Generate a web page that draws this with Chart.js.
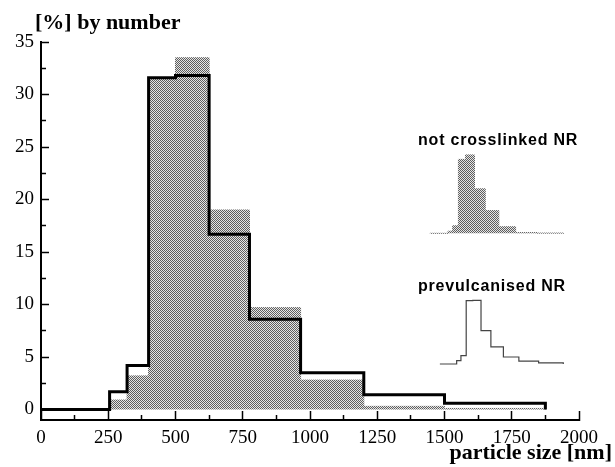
<!DOCTYPE html>
<html>
<head>
<meta charset="utf-8">
<script src="https://cdn.jsdelivr.net/npm/chart.js@4.4.1/dist/chart.umd.min.js"></script>
<style>
  html, body { margin: 0; padding: 0; background: #fff; }
  #caja { width: 615px; height: 467px; }
</style>
</head>
<body>
<div id="caja"><canvas id="canvaGrafico"></canvas></div>
<script>
// bordes de clase (nm), comunes a las dos muestras
const bordes = [0, 255, 320, 400, 500, 625, 775, 965, 1200, 1500, 1875];
// [%] por numero en cada clase
const noReticulado = [0, 0.9, 3.2, 31.6, 33.5, 19.0, 9.7, 2.8, 0.3, 0.1];
const prevulcanizado = [0, 1.7, 4.2, 31.6, 31.8, 16.7, 8.6, 3.5, 1.4, 0.6];

const ticksX = [0, 250, 500, 750, 1000, 1250, 1500, 1750, 2000];
const ticksXMenor = [125, 375, 625, 875, 1125, 1375, 1625, 1875];
const ticksY = [0, 5, 10, 15, 20, 25, 30, 35];
const ticksYMenor = [2.5, 7.5, 12.5, 17.5, 22.5, 27.5, 32.5];

const serif = "'Liberation Serif', 'Times New Roman', serif";
const sans = "'Liberation Sans', Arial, sans-serif";

// histograma como escalones: cada punto abre su clase, el ultimo cierra en 0
const escalones = (valores) => {
  const pts = valores.map((v, i) => ({x: bordes[i], y: v}));
  pts.push({x: bordes[bordes.length - 1], y: 0});
  return pts;
};

// rango de una escala oculta para que [lo, hi] caiga entre las fracciones f0 y f1 del area
const rango = (lo, hi, f0, f1) => {
  const k = (hi - lo) / (f1 - f0);
  return {min: lo - f0 * k, max: lo + (1 - f0) * k};
};

// trama de puntos para el relleno gris
const trama = (() => {
  const c = document.createElement('canvas');
  c.width = 2; c.height = 2;
  const g = c.getContext('2d');
  g.fillStyle = '#e6e6e6'; g.fillRect(0, 0, 2, 2);
  g.fillStyle = '#5e5e5e'; g.fillRect(0, 0, 1, 1); g.fillRect(1, 1, 1, 1);
  return g.createPattern(c, 'repeat');
})();

const fijarTicks = (valores) => (scale) => { scale.ticks = valores.map(v => ({value: v})); };

const textos = {
  id: 'textos',
  afterDraw(chart) {
    const ctx = chart.ctx;
    ctx.save();
    ctx.fillStyle = '#000';
    ctx.textBaseline = 'alphabetic';
    ctx.font = `bold 22px ${serif}`;
    ctx.textAlign = 'left';
    ctx.fillText('[%] by number', 35, 29);
    ctx.textAlign = 'right';
    ctx.fillText('particle size [nm]', 612, 459);
    ctx.font = `bold 16px ${sans}`;
    ctx.textAlign = 'left';
    ctx.letterSpacing = '0.8px';
    ctx.fillText('not crosslinked NR', 418, 145);
    ctx.fillText('prevulcanised NR', 418, 291);
    ctx.restore();
  }
};

const ejeMenor = (axis, pos, min, max, valores, largo) => ({
  type: 'linear', axis, position: pos, min, max,
  afterBuildTicks: fijarTicks(valores),
  ticks: {display: false},
  grid: {drawOnChartArea: false, drawTicks: true, tickLength: largo, tickWidth: 1.5, tickColor: '#000'},
  border: {display: false}
});

const oculto = (axis, r) => ({type: 'linear', axis, display: false, min: r.min, max: r.max});

new Chart(document.getElementById('canvaGrafico'), {
  type: 'line',
  data: {
    datasets: [
      {
        label: 'prevulcanised NR',
        data: escalones(prevulcanizado),
        xAxisID: 'x', yAxisID: 'y',
        stepped: 'before', borderColor: '#000', borderWidth: 3,
        pointRadius: 0, fill: false
      },
      {
        label: 'not crosslinked NR',
        data: escalones(noReticulado),
        xAxisID: 'x', yAxisID: 'y',
        stepped: 'before', borderColor: trama, borderWidth: 1,
        backgroundColor: trama, pointRadius: 0, fill: 'origin'
      },
      {
        label: 'not crosslinked NR (leyenda)',
        data: escalones(noReticulado),
        xAxisID: 'xa', yAxisID: 'ya',
        stepped: 'before', borderColor: trama, borderWidth: 1,
        backgroundColor: trama, pointRadius: 0, fill: 'origin'
      },
      {
        label: 'prevulcanised NR (leyenda)',
        data: escalones(prevulcanizado),
        xAxisID: 'xb', yAxisID: 'yb',
        stepped: 'before', borderColor: '#444', borderWidth: 1.2,
        pointRadius: 0, fill: false
      }
    ]
  },
  options: {
    responsive: true,
    maintainAspectRatio: false,
    animation: false,
    events: [],
    layout: {padding: {top: 42, right: 36, bottom: 0, left: 0}},
    plugins: {legend: {display: false}, tooltip: {enabled: false}},
    scales: {
      x: {
        type: 'linear', position: 'bottom', min: 0, max: 2000,
        afterBuildTicks: fijarTicks(ticksX),
        afterFit: (s) => { s.height = 47; },
        ticks: {color: '#000', font: {family: serif, size: 19}, padding: 16, maxRotation: 0, autoSkip: false,
                callback: v => String(v)},
        grid: {drawOnChartArea: false, drawTicks: true, tickLength: -9, tickWidth: 1.5, tickColor: '#000'},
        border: {color: '#000', width: 2}
      },
      y: {
        type: 'linear', position: 'left', min: -1, max: 35,
        afterBuildTicks: fijarTicks(ticksY),
        afterFit: (s) => { s.width = 41; },
        ticks: {color: '#000', font: {family: serif, size: 19}, padding: 15, autoSkip: false,
                callback: v => String(v)},
        grid: {drawOnChartArea: false, drawTicks: true, tickLength: -8, tickWidth: 1.5, tickColor: '#000'},
        border: {color: '#000', width: 2}
      },
      xMenor: ejeMenor('x', {y: -1}, 0, 2000, ticksXMenor, -5),
      yMenor: ejeMenor('y', {x: 0}, -1, 35, ticksYMenor, -5),
      xa: oculto('x', rango(0, 2000, 0.7227, 0.9885)),
      ya: oculto('y', rango(0, 10, 0.4939, 0.5558)),
      xb: oculto('x', rango(0, 2000, 0.7414, 0.9861)),
      yb: oculto('y', rango(0, 10, 0.1481, 0.2011))
    }
  },
  plugins: [textos]
});
</script>
</body>
</html>
